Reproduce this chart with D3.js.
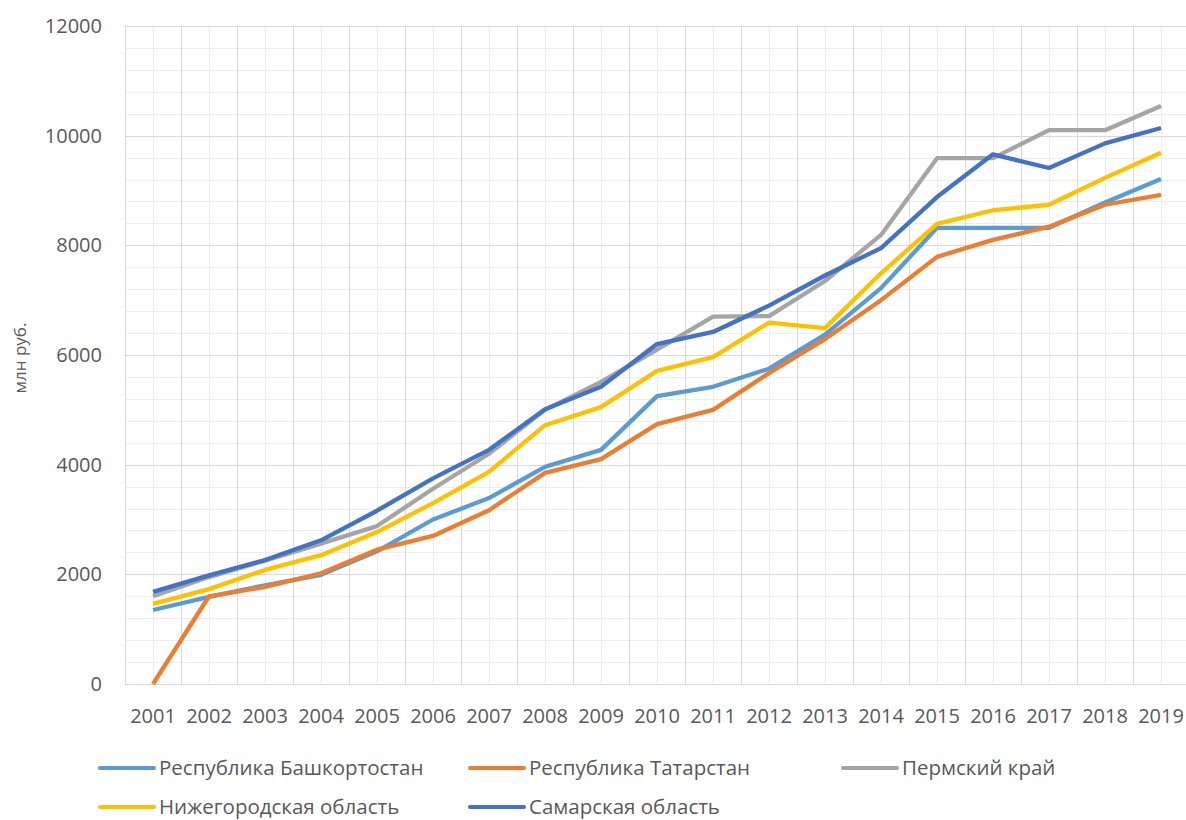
<!DOCTYPE html>
<head>
  <meta charset="utf-8">
  <title>млн руб.</title>
  <script src="https://d3js.org/d3.v7.min.js"></script>
  <style>
    body { margin: 0; background: #fff; }
    svg { display: block; font-family: "Open Sans", sans-serif; }
    .grid-major { stroke: #d9d9d9; stroke-width: 1px; }
    .grid-minor { stroke: #ededed; stroke-width: 1px; }
    .tick-label { fill: #595959; font-size: 20px; }
    .legend-label { fill: #595959; font-size: 20.5px; }
    .series { fill: none; stroke-width: 4.3px; stroke-linejoin: round; }
  </style>
</head>

<body>
  <script>
    var years = ["2001", "2002", "2003", "2004", "2005", "2006", "2007", "2008", "2009", "2010",
                 "2011", "2012", "2013", "2014", "2015", "2016", "2017", "2018", "2019"];

    var names = ["Республика Башкортостан", "Республика Татарстан", "Пермский край",
                 "Нижегородская область", "Самарская область"];

    var bashkortostan = [1350, 1590, 1800, 1990, 2420, 3000, 3390, 3960, 4270, 5250,
                         5420, 5750, 6370, 7220, 8320, 8320, 8320, 8780, 9210];
    var tatarstan     = [0, 1600, 1770, 2020, 2450, 2700, 3170, 3850, 4100, 4740,
                         5000, 5670, 6290, 7000, 7790, 8100, 8340, 8740, 8920];
    var perm          = [1600, 1950, 2250, 2560, 2880, 3560, 4200, 5000, 5510, 6100,
                         6700, 6710, 7350, 8190, 9590, 9590, 10100, 10100, 10540];
    var nizhny        = [1460, 1730, 2080, 2350, 2770, 3300, 3870, 4720, 5050, 5710,
                         5960, 6590, 6490, 7490, 8390, 8640, 8740, 9230, 9690];
    var samara        = [1680, 1980, 2260, 2620, 3160, 3750, 4270, 5010, 5420, 6200,
                         6420, 6900, 7450, 7950, 8880, 9660, 9410, 9860, 10140];

    var colours = ["#5b9bd5", "#ed7d31", "#a5a5a5", "#ffc000", "#4472c4"];
    var yTicks = [0, 2000, 4000, 6000, 8000, 10000, 12000];

    var series = [bashkortostan, tatarstan, perm, nizhny, samara].map(function(v, i) {
      return {name: names[i], colour: colours[i], values: v};
    });

    var width = 1186, height = 820;
    var plot = {left: 125, right: 1189, top: 26, bottom: 684};

    var svg = d3.select("body").append("svg")
      .attr("width", width)
      .attr("height", height);

    var x = d3.scaleBand()
      .domain(years)
      .range([plot.left, plot.right]);

    var y = d3.scaleLinear()
      .domain([0, 12000])
      .range([plot.bottom, plot.top]);

    var grid = svg.append("g");

    // minor horizontal lines every 400
    grid.selectAll("line.hmin")
      .data(d3.range(0, 12001, 400))
      .enter().append("line")
        .attr("class", "grid-minor")
        .attr("x1", plot.left).attr("x2", plot.right)
        .attr("y1", d => Math.round(y(d)) + 0.5)
        .attr("y2", d => Math.round(y(d)) + 0.5);

    // minor vertical lines at category centres
    grid.selectAll("line.vmin")
      .data(years)
      .enter().append("line")
        .attr("class", "grid-minor")
        .attr("x1", d => Math.round(x(d) + x.bandwidth() / 2) + 0.5)
        .attr("x2", d => Math.round(x(d) + x.bandwidth() / 2) + 0.5)
        .attr("y1", plot.top).attr("y2", plot.bottom);

    // major vertical lines at category boundaries
    grid.selectAll("line.vmaj")
      .data(years.concat(["end"]))
      .enter().append("line")
        .attr("class", "grid-major")
        .attr("x1", (d, i) => Math.round(plot.left + i * x.bandwidth()) + 0.5)
        .attr("x2", (d, i) => Math.round(plot.left + i * x.bandwidth()) + 0.5)
        .attr("y1", plot.top).attr("y2", plot.bottom);

    // major horizontal lines
    grid.selectAll("line.hmaj")
      .data(yTicks)
      .enter().append("line")
        .attr("class", "grid-major")
        .attr("x1", plot.left).attr("x2", plot.right)
        .attr("y1", d => Math.round(y(d)) + 0.5)
        .attr("y2", d => Math.round(y(d)) + 0.5);

    // y tick labels
    svg.append("g").selectAll("text")
      .data(yTicks)
      .enter().append("text")
        .attr("class", "tick-label")
        .attr("x", 102)
        .attr("y", d => y(d))
        .attr("dy", "0.35em")
        .attr("text-anchor", "end")
        .text(d => d);

    // x tick labels
    svg.append("g").selectAll("text")
      .data(years)
      .enter().append("text")
        .attr("class", "tick-label")
        .attr("x", d => x(d) + x.bandwidth() / 2)
        .attr("y", 716)
        .attr("dy", "0.35em")
        .attr("text-anchor", "middle")
        .text(d => d);

    svg.append("text")
      .attr("class", "tick-label")
      .style("font-size", "17px")
      .attr("transform", "translate(26,358) rotate(-90)")
      .attr("text-anchor", "middle")
      .text("млн руб.");

    var line = d3.line()
      .x((d, i) => x(years[i]) + x.bandwidth() / 2)
      .y(d => y(d));

    svg.append("g").selectAll("path")
      .data(series)
      .enter().append("path")
        .attr("class", "series")
        .attr("stroke", d => d.colour)
        .attr("d", d => line(d.values));

    // legend
    var legendPos = [[100, 768], [470, 768], [843, 768], [100, 807], [470, 807]];
    var legend = svg.append("g").selectAll("g")
      .data(series)
      .enter().append("g")
        .attr("transform", (d, i) => "translate(" + legendPos[i] + ")");
    legend.append("line")
      .attr("x1", 0).attr("x2", 54)
      .attr("stroke", d => d.colour)
      .attr("stroke-width", 4)
      .attr("stroke-linecap", "round");
    legend.append("text")
      .attr("class", "legend-label")
      .attr("x", 59)
      .attr("dy", "0.35em")
      .text(d => d.name);
  </script>
</body>
